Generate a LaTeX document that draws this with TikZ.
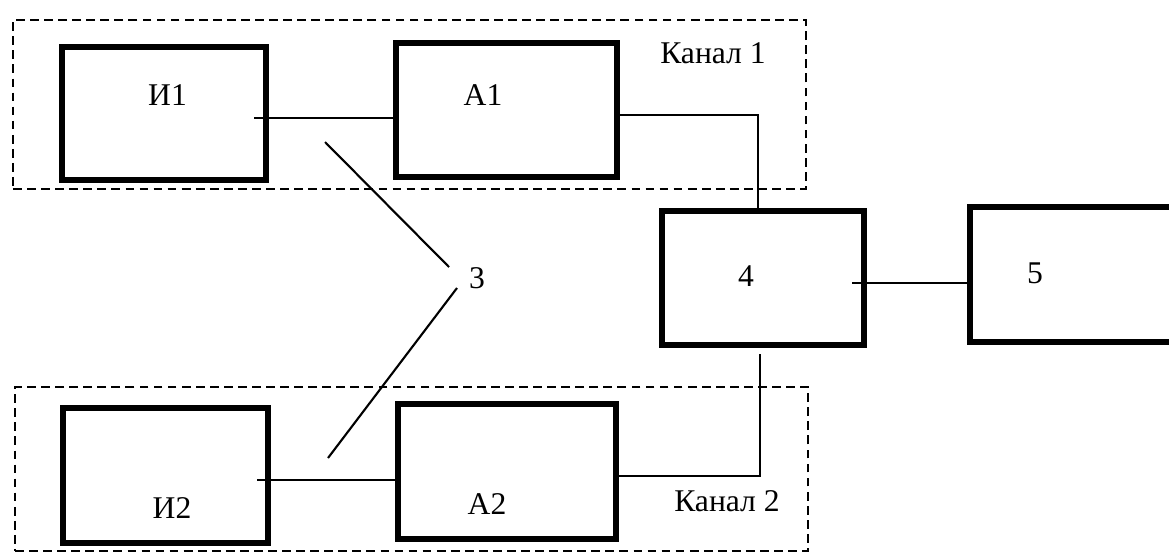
\documentclass[tikz,border=0pt]{standalone}
\usepackage{fontspec}
\setmainfont{Liberation Serif}
\begin{document}
\begin{tikzpicture}[x=0.02cm,y=-0.02cm,
  blk/.style={draw=black,line width=3.3pt,inner sep=0pt,minimum width=#1},
  frame/.style={draw=black,line width=1.4pt,dash pattern=on 5pt off 3pt,inner sep=0pt},
  wire/.style={draw=black,line width=1.2pt},
  lbl/.style={inner sep=0pt,font=\fontsize{18}{21}\selectfont},
  lblb/.style={inner sep=0pt,font=\fontsize{18}{21}\selectfont}]
\useasboundingbox (0,0) rectangle (1169,555);
\begin{scope}
\clip (0,0) rectangle (1169,555);
% dashed frames
\node[frame,minimum width=15.86cm,minimum height=3.38cm] (ch1) at (409.5,104.5) {};
\node[frame,minimum width=15.86cm,minimum height=3.28cm] (ch2) at (411.5,469) {};
% blocks
\node[blk=4.08cm,minimum height=2.66cm] (I1) at (164,113.5) {};
\node[blk=4.42cm,minimum height=2.68cm] (A1) at (506.5,110) {};
\node[blk=4.04cm,minimum height=2.68cm] (B4) at (763,278) {};
\node[blk=4.6cm,minimum height=2.7cm] (B5) at (1085,274.5) {};
\node[blk=4.1cm,minimum height=2.7cm] (I2) at (165.5,475.5) {};
\node[blk=4.36cm,minimum height=2.7cm] (A2) at (507,471.5) {};
\end{scope}
% labels
\node[lblb] (tI1) at (167.5,95) {И1};
\node[lbl] (tA1) at (483,95) {А1};
\node[lbl] (tK1) at (713,53) {Канал 1};
\node[lbl] (t4) at (746,276) {4};
\node[lbl] (t5) at (1035,273) {5};
\node[lbl] (t3) at (477,278) {3};
\node[lblb] (tI2) at (172,508) {И2};
\node[lbl] (tA2) at (487,504) {А2};
\node[lbl] (tK2) at (727,501) {Канал 2};
% connector points
\coordinate (i1o) at (254,118);
\coordinate (a1o) at (617,115);
\coordinate (b4t) at (758,211);
\coordinate (b4o) at (852,283);
\coordinate (b4b) at (760,354);
\coordinate (a2o) at (616,476);
\coordinate (i2o) at (257,480);
\coordinate (p3a) at (325,142);
\coordinate (p3b) at (449,267);
\coordinate (p3c) at (457,288);
\coordinate (p3d) at (328,458);
% connectors
\draw[wire] (i1o) -- (i1o -| A1.west);
\draw[wire] (a1o) -| (b4t);
\draw[wire] (b4o) -- (b4o -| B5.west);
\draw[wire] (b4b) |- (a2o);
\draw[wire] (i2o) -- (i2o -| A2.west);
\draw[wire] (p3a) -- (p3b);
\draw[wire] (p3c) -- (p3d);
\end{tikzpicture}
\end{document}
